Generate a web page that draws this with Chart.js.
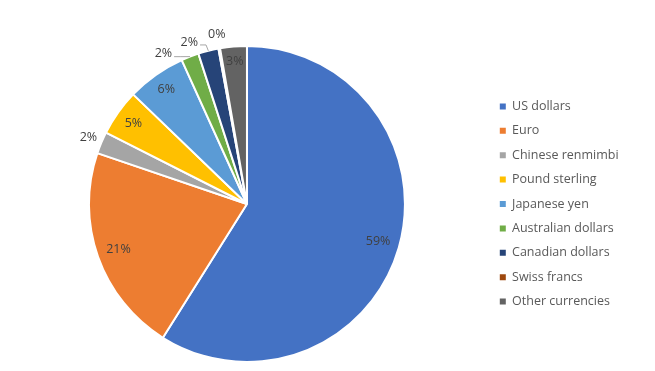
<!DOCTYPE html>
<html>
<head>
<meta charset="utf-8">
<script src="https://cdn.jsdelivr.net/npm/chart.js@4.4.0/dist/chart.umd.min.js"></script>
<style>
  html, body { margin: 0; background: #fff; }
  #wrap { width: 655px; height: 371px; position: relative; }
</style>
</head>
<body>
<div id="wrap"><canvas id="c"></canvas></div>
<script>
const currencies = ['US dollars', 'Euro', 'Chinese renmimbi', 'Pound sterling', 'Japanese yen',
  'Australian dollars', 'Canadian dollars', 'Swiss francs', 'Other currencies'];
const shares = [58.94, 21.29, 2.25, 4.73, 6.03, 1.80, 2.08, 0.17, 2.72];
const sliceColors = ['#4472C4', '#ED7D31', '#A5A5A5', '#FFC000', '#5B9BD5',
  '#70AD47', '#264478', '#9E480E', '#636363'];

const fontFamily = '"Open Sans", sans-serif';
const fontSize = 12.5;
const rowGap = 11.9;
const outsideBelow = 2.5; // percent: smaller slices get their label outside

// legend width decides the right padding, so the pie sits where it should
const probe = document.createElement('canvas').getContext('2d');
probe.font = fontSize + 'px ' + fontFamily;
const widest = Math.max(...currencies.map(t => probe.measureText(t).width));
const pieCenterX = 246;
const legendLeft = 486;
const padRight = 655 - legendLeft - (2 * rowGap + 6 + fontSize / 2 + widest);

const sliceLabels = {
  id: 'sliceLabels',
  afterDatasetsDraw(chart) {
    const ctx = chart.ctx;
    const meta = chart.getDatasetMeta(0);
    const data = chart.data.datasets[0].data;
    const total = data.reduce((a, b) => a + b, 0);
    ctx.save();
    ctx.font = fontSize + 'px ' + fontFamily;
    ctx.fillStyle = '#404040';
    ctx.textAlign = 'center';
    ctx.textBaseline = 'middle';
    const outside = [];
    meta.data.forEach((arc, i) => {
      const p = arc.getProps(['x', 'y', 'startAngle', 'endAngle', 'outerRadius'], true);
      const mid = (p.startAngle + p.endAngle) / 2;
      const pct = data[i] / total * 100;
      const text = Math.round(pct) + '%';
      const w = ctx.measureText(text).width;
      if (pct >= outsideBelow) {
        const ext = Math.abs(Math.cos(mid)) * w / 2 + Math.abs(Math.sin(mid)) * fontSize / 2;
        const r = p.outerRadius - 8 - ext;
        ctx.fillText(text, p.x + Math.cos(mid) * r, p.y + Math.sin(mid) * r);
      } else {
        outside.push({ text, w, mid, ang: mid, cx: p.x, cy: p.y, R: p.outerRadius });
      }
    });
    // push crowded outside labels counter-clockwise
    const rl = outside.length ? outside[0].R + 14 : 0;
    for (let k = outside.length - 2; k >= 0; k--) {
      const a = outside[k], b = outside[k + 1];
      const sep = (a.w / 2 + b.w / 2 + 11) / rl;
      a.ang = Math.min(a.mid, b.ang - sep);
    }
    ctx.strokeStyle = '#A6A6A6';
    ctx.lineWidth = 1;
    outside.forEach(o => {
      const lx = o.cx + Math.cos(o.ang) * rl;
      const ly = o.cy + Math.sin(o.ang) * rl;
      ctx.fillText(o.text, lx, ly);
      if (o.mid - o.ang > 0.02) {
        const ax = o.cx + Math.cos(o.mid) * o.R;
        const ay = o.cy + Math.sin(o.mid) * o.R;
        ctx.beginPath();
        ctx.moveTo(lx + o.w / 2 + 2, ly + 3);
        ctx.lineTo(lx + o.w / 2 + 8, ly + 3);
        ctx.lineTo(ax, ay);
        ctx.stroke();
      }
    });
    ctx.restore();
  }
};

const pieLegendLabels = Chart.overrides.pie.plugins.legend.labels.generateLabels;

new Chart(document.getElementById('c'), {
  type: 'pie',
  data: {
    labels: currencies,
    datasets: [{
      data: shares,
      backgroundColor: sliceColors,
      borderColor: '#fff',
      borderWidth: 2
    }]
  },
  options: {
    responsive: true,
    maintainAspectRatio: false,
    animation: false,
    layout: { padding: { left: 2 * pieCenterX - legendLeft, right: padRight, top: 45, bottom: 8 } },
    plugins: {
      tooltip: { enabled: false },
      legend: {
        position: 'right',
        labels: {
          boxWidth: 6,
          boxHeight: 6,
          padding: rowGap,
          color: '#595959',
          font: { family: fontFamily, size: fontSize },
          generateLabels: chart => pieLegendLabels(chart).map(l => ({ ...l, lineWidth: 0 }))
        }
      }
    }
  },
  plugins: [sliceLabels]
});
</script>
</body>
</html>
